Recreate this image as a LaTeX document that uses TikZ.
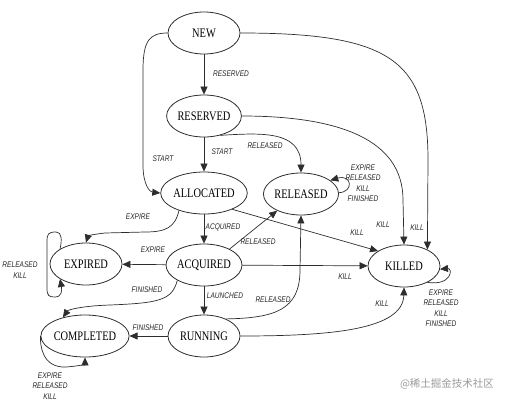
\documentclass[tikz,border=0pt]{standalone}
\usepackage{fontspec}
\newfontfamily\statefont[FakeStretch=0.8]{Liberation Serif}
\newfontfamily\labfont[FakeStretch=0.8]{Liberation Sans}
\newfontfamily\cjkfont{Noto Sans CJK SC}
\usetikzlibrary{shapes.geometric,arrows.meta}
\definecolor{linec}{RGB}{45,45,45}
\begin{document}
\begin{tikzpicture}[x=1pt,y=-1pt,
 state/.style={ellipse,draw=linec,line width=0.8pt,minimum width=72pt,minimum height=42pt,inner sep=0pt,font=\statefont\fontsize{13}{13}\selectfont},
 lab/.style={font=\labfont\itshape\fontsize{8.2}{10.5}\selectfont,align=center,inner sep=0pt,text=black!85},
 arr/.style={draw=linec,line width=0.7pt,-{Triangle[length=8pt,width=7pt]}},
 ln/.style={draw=linec,line width=0.7pt}]
\useasboundingbox (0,0) rectangle (506,402);
% states
\node[state] (NEW) at (204,33) {NEW};
\node[state] (RES) at (204,116) {RESERVED};
\node[state] (ALL) at (204,193) {ALLOCATED};
\node[state] (REL) at (301,194) {RELEASED};
\node[state] (EXP) at (86,264) {EXPIRED};
\node[state] (ACQ) at (204,265) {ACQUIRED};
\node[state] (COM) at (85,336) {COMPLETED};
\node[state] (RUN) at (204,336) {RUNNING};
\node[state] (KIL) at (404,266) {KILLED};
% edges
\draw[arr] (NEW) -- (RES);
\draw[arr] (NEW.west) .. controls (150,33) and (143,40) .. (143,70) -- (143,165) .. controls (143,185) and (150,192) .. (ALL.west);
\draw[arr] (NEW.east) .. controls (390,33) and (428,60) .. (428,160) -- (KIL.35);
\draw[arr] (RES.east) .. controls (340,116) and (403,140) .. (403,200) -- (KIL.north);
\draw[arr] (RES) -- (ALL);
\draw[arr] (RES.-50) .. controls (260,133) and (301,130) .. (REL.north);
\draw[arr] (REL.2) .. controls (354,192) and (352,174) .. (REL.25);
\draw[arr] (ALL.-145) .. controls (175,228) and (165,232) .. (145,232) -- (105,233) .. controls (95,234) and (88,236) .. (EXP.north);
\draw[arr] (ALL) -- (ACQ);
\draw[arr] (ALL.-30) -- (KIL.150);
\draw[arr] (ACQ.32) -- (REL.-145);
\draw[arr] (ACQ) -- (EXP);
\draw[arr] (ACQ) -- (KIL);
\draw[arr] (ACQ.-150) .. controls (172,300) and (160,303) .. (110,305) .. controls (80,306) and (68,310) .. (COM.140);
\draw[arr] (ACQ) -- (RUN);
\draw[arr] (RUN.38) .. controls (275,318) and (300,310) .. (300,270) -- (REL.south);
\draw[arr] (RUN) -- (COM);
\draw[arr] (RUN.east) .. controls (330,336) and (403,330) .. (KIL.south);
% self loops
\coordinate (e1) at (62,232);
\coordinate (e2) at (47,232);
\coordinate (e3) at (47,297);
\coordinate (e4) at (62,297);
\draw[arr] (EXP.150) .. controls (62,240) and (62,232) .. (56,232) .. controls (48,232) and (47,234) .. (47,242) -- (47,288) .. controls (47,296) and (49,297) .. (55,297) .. controls (62,297) and (62,290) .. (EXP.-150);
\draw[arr] (COM.180) .. controls (40,345) and (42,368) .. (66,367) .. controls (80,366) and (85,364) .. (COM.south);
\draw[arr] (KIL.-35) .. controls (452,286) and (453,268) .. (KIL.-5);
% labels
\node[lab] (lRes) at (231,74) {RESERVED};
\node[lab] (lSt1) at (163,159) {START};
\node[lab] (lSt2) at (222,152) {START};
\node[lab] (lRel1) at (265,146) {RELEASED};
\node[lab] (lRelLoop) at (363,183) {EXPIRE\\RELEASED\\KILL\\FINISHED};
\node[lab] (lK1) at (383,225) {KILL};
\node[lab] (lK2) at (417,228) {KILL};
\node[lab] (lExp1) at (138,217) {EXPIRE};
\node[lab] (lAcq) at (223,227) {ACQUIRED};
\node[lab] (lK3) at (357,233) {KILL};
\node[lab] (lRel2) at (258,242) {RELEASED};
\node[lab] (lExp2) at (153,250) {EXPIRE};
\node[lab] (lK4) at (345,277) {KILL};
\node[lab] (lFin1) at (147,290) {FINISHED};
\node[lab] (lLau) at (225,296) {LAUNCHED};
\node[lab] (lRel3) at (273,300) {RELEASED};
\node[lab] (lK5) at (382,304) {KILL};
\node[lab] (lFin2) at (148,328) {FINISHED};
\node[lab] (lExpLoop) at (20,270) {RELEASED\\KILL};
\node[lab] (lComLoop) at (50,386) {EXPIRE\\RELEASED\\KILL};
\node[lab] (lKilLoop) at (441,308) {EXPIRE\\RELEASED\\KILL\\FINISHED};
\node[font=\cjkfont\fontsize{10.5}{12}\selectfont,text=black!40,inner sep=0pt] (wm) at (447,384) {@稀土掘金技术社区};
\end{tikzpicture}
\end{document}
